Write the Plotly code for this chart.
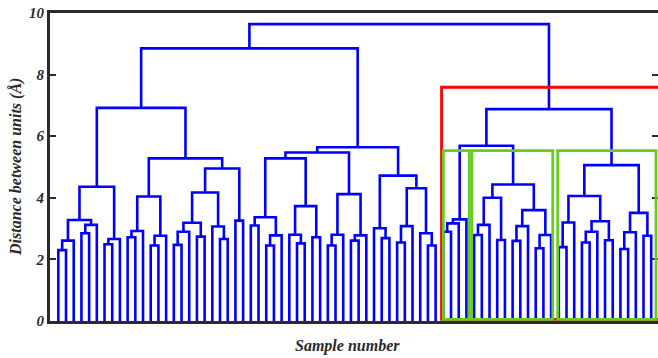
import plotly.graph_objects as go

# ---- data: hierarchical clustering (scipy-like linkage, leaves 0..77, nodes 78+) ----
n_leaves = 78
merge_left = [0, 78, 3, 80, 79, 6, 83, 82, 9, 86, 12, 88, 87, 15, 91, 18, 92, 21, 20, 94,
              23, 97, 90, 85, 25, 27, 103, 102, 31, 30, 33, 107, 105, 35, 111, 38, 113, 112, 110, 42,
              41, 44, 119, 48, 47, 120, 118, 116, 101, 50, 127, 128, 54, 130, 57, 131, 59, 134, 62, 136,
              135, 133, 129, 65, 141, 68, 143, 71, 144, 142, 73, 148, 76, 149, 147, 140, 126]
merge_right = [1, 2, 4, 5, 81, 7, 8, 84, 10, 11, 13, 14, 89, 16, 17, 19, 93, 22, 95, 96,
               24, 98, 99, 100, 26, 28, 29, 104, 32, 106, 34, 108, 109, 36, 37, 39, 40, 114, 115, 43,
               117, 45, 46, 49, 121, 122, 123, 124, 125, 51, 52, 53, 55, 56, 58, 132, 60, 61, 63, 64,
               137, 138, 139, 66, 67, 69, 70, 72, 145, 146, 74, 75, 77, 150, 151, 152, 153]
merge_height = [2.30, 2.61, 2.85, 3.12, 3.28, 2.49, 2.66, 4.36, 2.72, 2.92, 2.45, 2.77, 4.04, 2.47, 2.90, 2.74, 3.19, 2.66, 3.07, 4.17,
                3.26, 4.95, 5.28, 6.92, 3.10, 2.45, 2.78, 3.37, 2.52, 2.80, 2.72, 3.73, 5.28, 2.45, 2.80, 2.61, 2.78, 4.12, 5.47, 2.69,
                3.01, 2.55, 3.08, 2.45, 2.85, 4.31, 4.72, 5.64, 8.85, 2.90, 3.17, 3.30, 2.79, 3.12, 2.63, 4.00, 2.60, 3.08, 2.36, 2.79,
                3.60, 4.43, 5.69, 2.40, 3.20, 2.55, 2.90, 2.62, 3.24, 4.06, 2.34, 2.88, 2.77, 3.51, 5.06, 6.88, 9.64]

# cluster boxes (in leaf-index units / distance units)
box_x0 = [49.77, 50.0, 53.69, 64.86]
box_x1 = [80.0, 53.38, 64.21, 77.62]
box_top = [7.59, 5.53, 5.53, 5.53]
box_color = ["#FF0000", "#66CC1E", "#66CC1E", "#66CC1E"]

y_ticks = [0, 2, 4, 6, 8, 10]

# ---- build dendrogram segments ----
pos = {i: float(i) for i in range(n_leaves)}
hgt = {i: 0.0 for i in range(n_leaves)}
xs, ys = [], []
for k, (a, b, h) in enumerate(zip(merge_left, merge_right, merge_height)):
    nid = n_leaves + k
    xa, xb = pos[a], pos[b]
    xs += [xa, xa, xb, xb, None]
    ys += [hgt[a], h, h, hgt[b], None]
    pos[nid] = (xa + xb) / 2
    hgt[nid] = h

fig = go.Figure()
fig.add_trace(go.Scatter(x=xs, y=ys, mode="lines",
                         line=dict(color="#0000FF", width=2.6),
                         hoverinfo="skip", showlegend=False))
# invisible trace for right-side ticks
fig.add_trace(go.Scatter(x=[0], y=[0], yaxis="y2", mode="markers",
                         marker=dict(opacity=0), hoverinfo="skip", showlegend=False))

for x0, x1, yt, c in zip(box_x0, box_x1, box_top, box_color):
    fig.add_shape(type="rect", xref="x", yref="y", x0=x0, x1=x1, y0=0.05, y1=yt,
                  line=dict(color=c, width=2.8), fillcolor="rgba(0,0,0,0)", layer="above")

font_family = "Liberation Serif"
axis_col = "#2b2b2b"

fig.update_layout(
    width=658, height=358,
    margin=dict(l=50, r=0, t=13, b=37),
    paper_bgcolor="white", plot_bgcolor="white",
    showlegend=False,
    hovermode=False,
    xaxis=dict(range=[-1.08, 77.88], showgrid=False, zeroline=False,
               showticklabels=False, ticks="",
               showline=True, linecolor=axis_col, linewidth=3, mirror=True),
    yaxis=dict(range=[0, 10], tickvals=y_ticks, ticktext=[str(v) for v in y_ticks],
               showgrid=False, zeroline=False, ticklabeloverflow="allow",
               showline=True, linecolor=axis_col, linewidth=3,
               ticks="inside", ticklen=6, tickwidth=2, tickcolor=axis_col,
               tickfont=dict(family=font_family, size=15, color=axis_col,
                             weight="bold", style="italic")),
    yaxis2=dict(range=[0, 10], tickvals=y_ticks, overlaying="y", side="right",
                anchor="x", showgrid=False, zeroline=False, showline=False,
                showticklabels=False, ticks="inside", ticklen=6, tickwidth=2,
                tickcolor=axis_col),
)

fig.add_annotation(text="Sample number", xref="paper", yref="paper",
                   x=0.49, y=-0.08, xanchor="center", yanchor="middle", showarrow=False,
                   font=dict(family=font_family, size=16, color=axis_col,
                             weight="bold", style="italic"))
fig.add_annotation(text="Distance between units (Å)", xref="paper", yref="paper",
                   x=-0.056, y=0.5, xanchor="center", yanchor="middle", showarrow=False,
                   textangle=-90,
                   font=dict(family=font_family, size=16, color=axis_col,
                             weight="bold", style="italic"))

# remove the default 8px page margin so the figure fills the window exactly
fig.write_html("out.html",
               config={"displayModeBar": False, "staticPlot": True},
               post_script="document.body.style.margin='0';document.body.style.overflow='hidden';")
